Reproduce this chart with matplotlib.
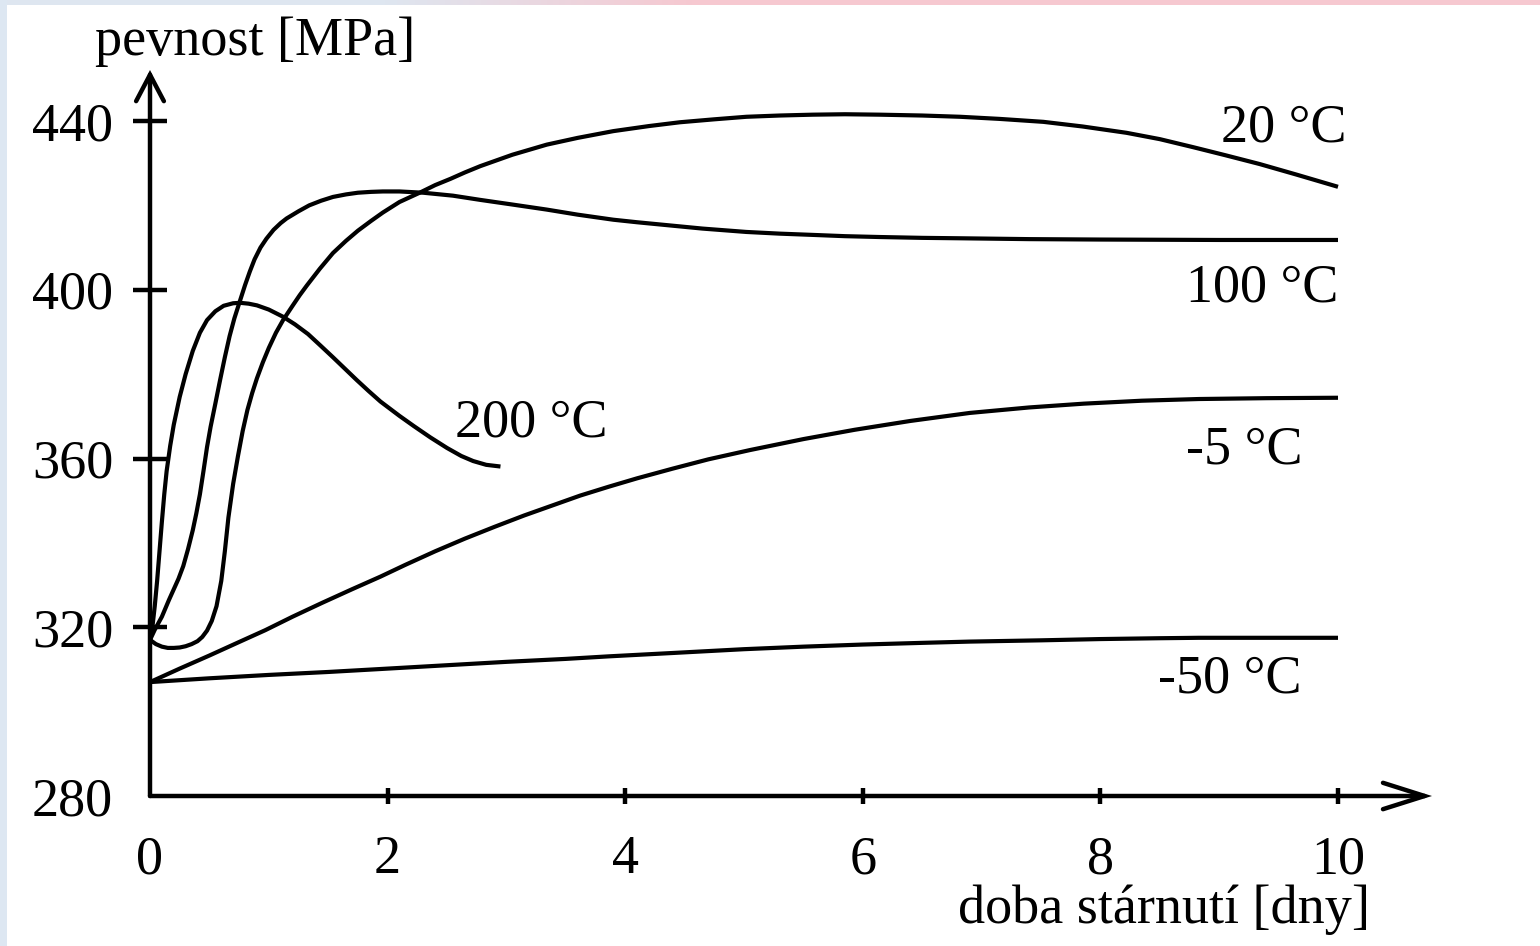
import matplotlib
matplotlib.use("Agg")
import matplotlib.pyplot as plt
import numpy as np
from matplotlib.patches import ArrowStyle

# ---------------- data ----------------
x_20 = [0, 0.05, 0.1, 0.15, 0.2, 0.25, 0.3, 0.35, 0.4, 0.44, 0.48, 0.52, 0.56, 0.6, 0.63,
        0.66, 0.7, 0.74, 0.78, 0.82, 0.86, 0.9, 0.95, 1.0, 1.06, 1.12, 1.2, 1.26, 1.32,
        1.43, 1.54, 1.65, 1.75, 1.86, 1.96, 2.1, 2.27, 2.4, 2.53, 2.65, 2.78, 3.05, 3.34,
        3.6, 3.9, 4.2, 4.46, 4.75, 5.02, 5.3, 5.58, 5.85, 6.14, 6.5, 6.82, 7.15, 7.52,
        7.85, 8.22, 8.5, 8.78, 9.05, 9.34, 9.65, 10]
y_20 = [317, 316, 315.4, 315.1, 315.1, 315.2, 315.5, 316, 316.7, 317.7, 319.2, 321.5, 325, 331, 338,
        346, 354, 360.5, 366.5, 371.5, 375.5, 379, 382.8, 386.2, 389.8, 392.8, 396.2, 398.7, 401,
        405, 408.7, 411.6, 414, 416.3, 418.3, 420.8, 423, 424.8, 426.3, 427.8, 429.3, 432, 434.4,
        436, 437.6, 438.8, 439.7, 440.4, 441, 441.3, 441.5, 441.6, 441.5, 441.3, 441, 440.5, 439.8,
        438.7, 437.2, 435.7, 433.8, 431.9, 429.8, 427.3, 424.4]

x_100 = [0, 0.04, 0.1, 0.16, 0.2, 0.24, 0.28, 0.32, 0.36, 0.39, 0.42, 0.45, 0.48, 0.51, 0.55,
         0.59, 0.63, 0.67, 0.71, 0.76, 0.8, 0.84, 0.88, 0.93, 0.98, 1.04, 1.1, 1.15, 1.25,
         1.34, 1.44, 1.54, 1.65, 1.75, 1.86, 1.96, 2.1, 2.3, 2.55, 2.78, 3.05, 3.34, 3.6,
         3.9, 4.1, 4.32, 4.65, 5.02, 5.3, 5.58, 5.85, 6.14, 6.5, 6.82, 7.4, 8, 9, 10]
y_100 = [317, 319.4, 322.5, 326.5, 329, 331.5, 334.5, 338.5, 343, 347, 351.5, 357, 362.7, 367.5, 373,
         378.6, 384, 389, 393.2, 397.6, 401.1, 404.3, 407.2, 410, 412.1, 414.2, 415.8, 416.9, 418.6,
         420, 421.1, 422, 422.6, 423, 423.2, 423.3, 423.3, 423, 422.3, 421.3, 420.2, 419, 417.8,
         416.6, 416, 415.4, 414.5, 413.7, 413.3, 413, 412.7, 412.5, 412.3, 412.2, 412, 411.9, 411.8, 411.8]

x_200 = [0, 0.02, 0.04, 0.06, 0.08, 0.1, 0.12, 0.14, 0.17, 0.2, 0.25, 0.3, 0.36, 0.42, 0.48,
         0.55, 0.62, 0.7, 0.76, 0.83, 0.9, 1.0, 1.12, 1.22, 1.33, 1.43, 1.54, 1.64, 1.74,
         1.84, 1.94, 2.02, 2.1, 2.22, 2.36, 2.5, 2.62, 2.72, 2.83, 2.95]
y_200 = [317, 320, 325, 331, 338, 345, 351.5, 357, 363, 368, 374.6, 380, 385.5, 389.8, 392.8,
         394.9, 396.2, 396.8, 396.9, 396.7, 396.3, 395.3, 393.6, 391.8, 389.5, 386.9, 384, 381.3, 378.6,
         376, 373.5, 371.8, 370.1, 367.7, 365, 362.5, 360.6, 359.4, 358.5, 358.1]

x_m5 = [0, 0.25, 0.5, 0.75, 0.97, 1.2, 1.45, 1.7, 1.94, 2.15, 2.4, 2.65, 2.9, 3.15, 3.4,
        3.62, 3.86, 4.1, 4.4, 4.7, 5.05, 5.5, 5.93, 6.4, 6.9, 7.4, 7.86, 8.35, 8.83, 9.4, 10]
y_m5 = [307, 310.2, 313.3, 316.5, 319.3, 322.5, 325.8, 329, 332, 334.8, 338, 341, 343.8, 346.5, 349,
        351.2, 353.3, 355.3, 357.6, 359.8, 362, 364.6, 366.8, 368.9, 370.8, 372.1, 373, 373.7, 374.1, 374.3, 374.4]

x_m50 = [0, 0.5, 1, 1.5, 1.94, 2.5, 3, 3.5, 3.86, 4.4, 5, 5.5, 6, 6.5, 6.9, 7.5, 8, 8.5,
         8.83, 9.4, 10]
y_m50 = [307, 307.9, 308.7, 309.4, 310.1, 311, 311.8, 312.5, 313.1, 313.9, 314.8, 315.4, 315.9,
         316.3, 316.6, 316.9, 317.2, 317.4, 317.5, 317.5, 317.5]

x_ticks = [0, 2, 4, 6, 8, 10]
y_ticks = [280, 320, 360, 400, 440]

curve_labels = ["20 °C", "100 °C", "200 °C", "-5 °C", "-50 °C"]
y_label = "pevnost [MPa]"
x_label = "doba stárnutí [dny]"

# ---------------- figure ----------------
W, H = 1540, 946
plt.rcParams["font.family"] = ["Liberation Serif", "DejaVu Serif"]
FS = 39

fig = plt.figure(figsize=(W / 100, H / 100), dpi=100)
fig.patch.set_facecolor("white")

# slide background strips
ax_top = fig.add_axes([0, 1 - 5 / H, 1, 5 / H])
grad = np.linspace(0, 1, 256)
c1 = np.array([222, 230, 240]) / 255
c2 = np.array([246, 200, 208]) / 255
w = np.clip((grad - 0.25) / 0.2, 0, 1)[:, None]
img = (c1 * (1 - w) + c2 * w)[None, :, :]
ax_top.imshow(img, aspect="auto", extent=[0, 1, 0, 1])
ax_top.axis("off")
ax_left = fig.add_axes([0, 0, 7 / W, 1])
ax_left.set_facecolor((221 / 255, 231 / 255, 242 / 255))
for s in ax_left.spines.values():
    s.set_visible(False)
ax_left.set_xticks([])
ax_left.set_yticks([])

# main axes: x=0 at px 150, x=10 at px 1338 ; y=280 at px 796, y=440 at px 121
px_per_x = (1338 - 150) / 10
px_per_y = (796 - 121) / 160
left_px, right_px, bottom_px, top_px = 150, 1450, 796, 55
ax = fig.add_axes([left_px / W, (H - bottom_px) / H,
                   (right_px - left_px) / W, (bottom_px - top_px) / H])
ax.set_xlim(0, (right_px - left_px) / px_per_x)
ax.set_ylim(280, 280 + (bottom_px - top_px) / px_per_y)
for s in ax.spines.values():
    s.set_visible(False)
ax.patch.set_alpha(0)

lw = 3.0
for xs, ys in [(x_20, y_20), (x_100, y_100), (x_200, y_200), (x_m5, y_m5), (x_m50, y_m50)]:
    ax.plot(xs, ys, color="black", lw=lw, solid_joinstyle="round", solid_capstyle="butt")

# axes with arrows
x_tip = (1432 - 150) / px_per_x
y_tip = 280 + (796 - 70) / px_per_y
ax.annotate("", xy=(x_tip, 280), xytext=(0, 280),
            arrowprops=dict(arrowstyle=ArrowStyle("->", head_length=30, head_width=9.5),
                            mutation_scale=1, lw=3.2, color="black",
                            shrinkA=0, shrinkB=0, joinstyle="miter"),
            annotation_clip=False)
ax.annotate("", xy=(0, y_tip), xytext=(0, 280),
            arrowprops=dict(arrowstyle=ArrowStyle("->", head_length=19, head_width=10),
                            mutation_scale=1, lw=3.2, color="black",
                            shrinkA=0, shrinkB=0, joinstyle="miter"),
            annotation_clip=False)

# ticks
ax.set_xticks(x_ticks)
ax.set_xticklabels([str(v) for v in x_ticks])
ax.set_yticks(y_ticks)
ax.set_yticklabels([str(v) for v in y_ticks])
ax.tick_params(axis="y", direction="inout", length=24, width=3.2, pad=14.5, labelsize=FS)
ax.tick_params(axis="x", direction="inout", length=11.5, width=3.2, pad=22, labelsize=FS)
ax.xaxis.get_major_ticks()[0].tick1line.set_visible(False)
ax.yaxis.get_major_ticks()[0].tick1line.set_visible(False)


def dx(px):
    return (px - 150) / px_per_x


def dy(py):
    return 280 + (796 - py) / px_per_y


ax.text(dx(1347), dy(141), curve_labels[0], fontsize=FS, ha="right", va="baseline")
ax.text(dx(1338), dy(301), curve_labels[1], fontsize=FS, ha="right", va="baseline")
ax.text(dx(455), dy(436), curve_labels[2], fontsize=FS, ha="left", va="baseline")
ax.text(dx(1303), dy(463), curve_labels[3], fontsize=FS, ha="right", va="baseline")
ax.text(dx(1302), dy(692), curve_labels[4], fontsize=FS, ha="right", va="baseline")

fig.text(95 / W, 1 - 55 / H, y_label, fontsize=FS, ha="left", va="baseline")
fig.text(1370 / W, 1 - 923 / H, x_label, fontsize=FS, ha="right", va="baseline")

fig.savefig("out.png", dpi=100)
